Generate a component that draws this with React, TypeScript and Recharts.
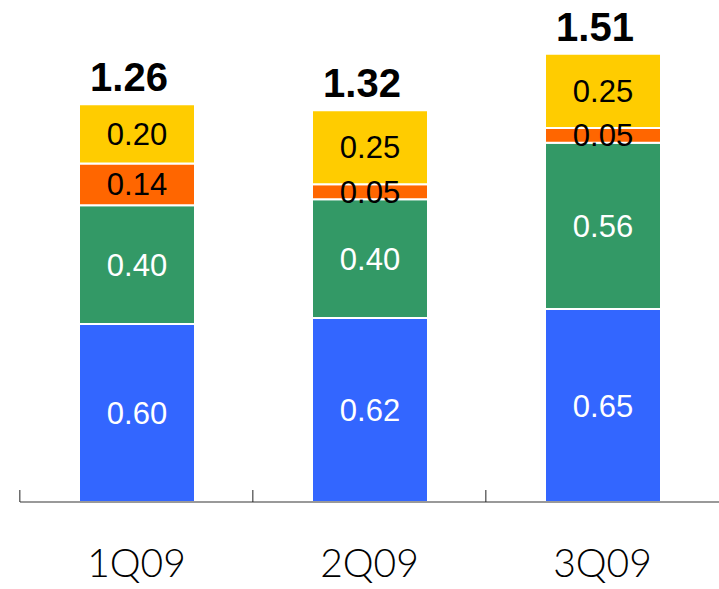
import { BarChart, Bar, XAxis, YAxis, LabelList } from "recharts";

const quarters = ["1Q09", "2Q09", "3Q09"];
const blueValues = [0.6, 0.62, 0.65];
const greenValues = [0.4, 0.4, 0.56];
const orangeValues = [0.14, 0.05, 0.05];
const yellowValues = [0.2, 0.25, 0.25];
const totals = ["1.26", "1.32", "1.51"];

const chartData = quarters.map((q, i) => ({
  quarter: q,
  blue: blueValues[i],
  green: greenValues[i],
  orange: orangeValues[i],
  yellow: yellowValues[i],
}));

const labelFont = "'Liberation Sans', Arial, sans-serif";
const BAND = 233.3;

function QuarterTick(props: any) {
  const { x, y, payload } = props;
  return (
    <g>
      <line x1={x - BAND / 2} y1={y - 12} x2={x - BAND / 2} y2={y} stroke="#222" strokeWidth={1} />
      <text
        x={x}
        y={y + 75}
        textAnchor="middle"
        fontSize={39}
        fontFamily="Lato, 'Open Sans', sans-serif"
        fontWeight={300}
        fill="#000"
      >
        {payload.value}
      </text>
    </g>
  );
}

function TotalLabel(props: any) {
  const { x, y, width, index } = props;
  return (
    <text
      x={x + width / 2 - 8}
      y={y - 13}
      textAnchor="middle"
      fontSize={40}
      fontWeight="bold"
      fontFamily={labelFont}
      fill="#000"
    >
      {totals[index]}
    </text>
  );
}

const fmt = (v: any) => Number(v).toFixed(2);

export default function App() {
  return (
    <div style={{ position: "absolute", left: 0, top: 0, width: 719, height: 589, background: "#fff" }}>
      <BarChart
        width={719}
        height={589}
        data={chartData}
        margin={{ top: 27, right: 0, bottom: 0, left: 20 }}
        barCategoryGap={0}
      >
        <YAxis hide domain={[0, 1.6]} allowDataOverflow />
        <XAxis
          dataKey="quarter"
          height={87}
          axisLine={{ stroke: "#999", strokeWidth: 2 }}
          tickLine={false}
          tickSize={0}
          tickMargin={0}
          tick={<QuarterTick />}
          interval={0}
        />
        <Bar dataKey="blue" stackId="a" fill="#3366FF" stroke="#fff" strokeWidth={2} barSize={116} isAnimationActive={false}>
          <LabelList dataKey="blue" position="center" fill="#fff" fontSize={31} fontFamily={labelFont} formatter={fmt} />
        </Bar>
        <Bar dataKey="green" stackId="a" fill="#339966" stroke="#fff" strokeWidth={2} barSize={116} isAnimationActive={false}>
          <LabelList dataKey="green" position="center" fill="#fff" fontSize={31} fontFamily={labelFont} formatter={fmt} />
        </Bar>
        <Bar dataKey="orange" stackId="a" fill="#FF6600" stroke="#fff" strokeWidth={2} barSize={116} isAnimationActive={false}>
          <LabelList dataKey="orange" position="center" fill="#000" fontSize={31} fontFamily={labelFont} formatter={fmt} />
        </Bar>
        <Bar dataKey="yellow" stackId="a" fill="#FFCC00" stroke="#fff" strokeWidth={2} barSize={116} isAnimationActive={false}>
          <LabelList dataKey="yellow" position="center" fill="#000" fontSize={31} fontFamily={labelFont} formatter={fmt} />
          <LabelList dataKey="yellow" content={<TotalLabel />} />
        </Bar>
      </BarChart>
    </div>
  );
}
